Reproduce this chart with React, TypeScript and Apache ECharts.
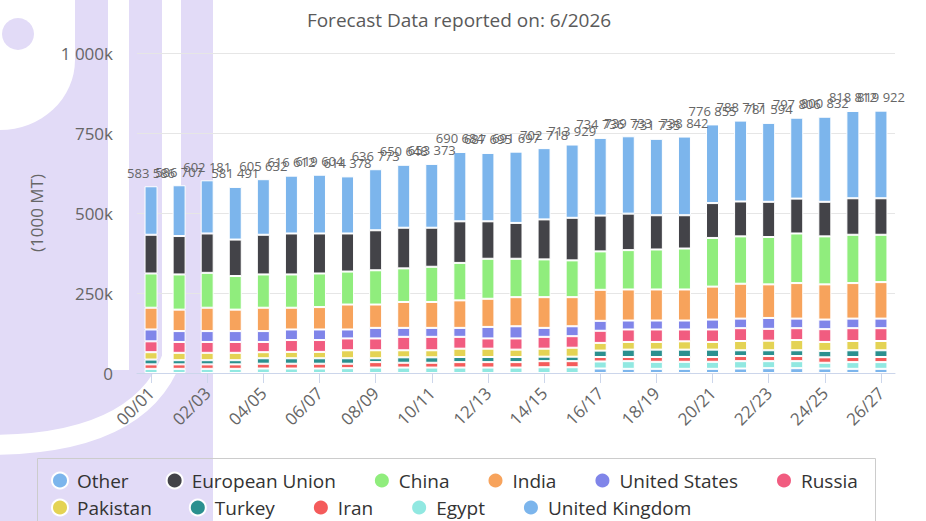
import React, { useEffect, useRef } from "react";
import * as echarts from "echarts";

const categories = [
  "00/01", "01/02", "02/03", "03/04", "04/05", "05/06", "06/07", "07/08", "08/09",
  "09/10", "10/11", "11/12", "12/13", "13/14", "14/15", "15/16", "16/17", "17/18",
  "18/19", "19/20", "20/21", "21/22", "22/23", "23/24", "24/25", "25/26", "26/27",
];

// values in 1000 MT
const unitedKingdom = [null, null, null, null, null, null, null, null, null, null, null, null, null, null, null, null,
  14000, 13000, 13000, 13000, 13000, 14000, 15000, 15000, 14000, 13000, 13000];
const egypt = [13000, 13000, 13000, 13000, 14000, 14000, 14000, 15000, 17000, 17000, 17000, 17000, 17000, 17000, 18000, 18000,
  22000, 24000, 22000, 22000, 22000, 23000, 22000, 22000, 18000, 21000, 21000];
const iran = [14000, 14000, 14000, 14000, 15000, 15000, 15000, 14000, 17000, 15000, 15000, 17000, 17000, 17000, 19000, 19000,
  14000, 13000, 15000, 15000, 15000, 16000, 16000, 16000, 17000, 16000, 16000];
const turkey = [15000, 13000, 13000, 13000, 17000, 17000, 17000, 17000, 12000, 17000, 17000, 16000, 16000, 16000, 14000, 14000,
  20000, 23000, 23000, 23000, 23000, 18000, 18000, 18000, 20000, 21000, 21000];
const pakistan = [23000, 23000, 23000, 23000, 19000, 20000, 20000, 25000, 25000, 22000, 22000, 26000, 26000, 23000, 25000, 28000,
  24000, 24000, 24000, 26000, 24000, 29000, 30000, 32000, 28000, 29000, 29000];
const russia = [34000, 34000, 34000, 34000, 32000, 37000, 37000, 37000, 37000, 42000, 42000, 37000, 32000, 35000, 37000, 36000,
  38000, 39000, 39000, 37000, 39000, 40000, 37000, 37000, 40000, 40000, 40000];
const unitedStates = [37000, 34000, 34000, 34000, 34000, 33000, 33000, 28000, 33000, 28000, 28000, 28000, 36000, 38000, 28000, 31000,
  31000, 28000, 28000, 28000, 31000, 30000, 34000, 30000, 30000, 30000, 30000];
const india = [68000, 67000, 73000, 67000, 73000, 68000, 70000, 78000, 73000, 81000, 81000, 86000, 88000, 91000, 96000, 91000,
  97000, 97000, 97000, 97000, 103000, 109000, 105000, 111000, 110000, 111000, 114000];
const china = [107000, 110000, 109000, 105000, 104000, 104000, 105000, 103000, 107000, 105000, 110000, 117000, 125000, 120000, 118000, 115000,
  120000, 123000, 125000, 128000, 152000, 148000, 148000, 155000, 150000, 151000, 148000];
const europeanUnion = [121000, 120000, 123000, 114000, 124000, 128000, 125000, 119000, 125000, 127000, 122000, 130000, 117000, 112000, 125000, 133000,
  112000, 114000, 107000, 104000, 109000, 109000, 110000, 109000, 108000, 114000, 114000];
const other = [151586, 158707, 166181, 164491, 173632, 180612, 183604, 178378, 190773, 196648, 199373, 216684, 213695, 222697, 222718, 228929,
  242736, 241733, 238735, 245842, 245855, 252717, 246594, 252806, 265832, 272812, 273922];

const yTicks = [0, 250000, 500000, 750000, 1000000];

const seriesDefs = [
  { name: "United Kingdom", data: unitedKingdom, color: "#7cb5ec" },
  { name: "Egypt", data: egypt, color: "#91e8e1" },
  { name: "Iran", data: iran, color: "#f45b5b" },
  { name: "Turkey", data: turkey, color: "#2b908f" },
  { name: "Pakistan", data: pakistan, color: "#e4d354" },
  { name: "Russia", data: russia, color: "#f15c80" },
  { name: "United States", data: unitedStates, color: "#8085e9" },
  { name: "India", data: india, color: "#f7a35c" },
  { name: "China", data: china, color: "#90ed7d" },
  { name: "European Union", data: europeanUnion, color: "#434348" },
  { name: "Other", data: other, color: "#7cb5ec" },
];

const legendRow1 = ["Other", "European Union", "China", "India", "United States", "Russia"];
const legendRow2 = ["Pakistan", "Turkey", "Iran", "Egypt", "United Kingdom"];

const fmtSpace = (v: number) =>
  String(Math.round(v)).replace(/\B(?=(\d{3})+(?!\d))/g, " ");

const FONT = "Open Sans";
const WM = "#e2dbf7";

export default function App() {
  const ref = useRef<HTMLDivElement>(null);

  useEffect(() => {
    if (!ref.current) return;
    echarts.graphic.registerShape(
      "wmLeft",
      echarts.graphic.extendPath(
        "M75 0 L108 0 L108 400 L0 400 L0 130 A75 70 0 0 0 75 60 Z",
        {}
      )
    );
    const chart = echarts.init(ref.current, null, { renderer: "svg" });

    const totals = categories.map((_, i) =>
      seriesDefs.reduce((s, d) => s + ((d.data[i] as number) || 0), 0)
    );

    const legendBase = {
      orient: "horizontal",
      icon: "circle",
      itemWidth: 16,
      itemHeight: 16,
      itemGap: 37,
      padding: 0,
      selectedMode: false,
      textStyle: {
        fontFamily: FONT,
        fontSize: 19,
        color: "#333",
        padding: [0, 0, 0, 4],
      },
    };

    const option: any = {
      animation: false,
      backgroundColor: "#ffffff",
      title: {
        text: "Forecast Data reported on: 6/2026",
        left: 454,
        top: 5,
        textAlign: "center",
        textStyle: { fontFamily: FONT, fontSize: 19, fontWeight: "normal", color: "#5a5a5a" },
      },
      graphic: [
        { type: "circle", z: -10, shape: { cx: 18, cy: 34, r: 16 }, style: { fill: WM } },
        { type: "wmLeft", z: -10, x: 0, y: 0, scaleX: 1, scaleY: 1, style: { fill: WM } },
        { type: "rect", z: -10, shape: { x: 129, y: 0, width: 33, height: 400 }, style: { fill: WM } },
        { type: "rect", z: -10, shape: { x: 181, y: 0, width: 32, height: 521 }, style: { fill: WM } },
        { type: "rect", z: -10, shape: { x: 0, y: 370, width: 213, height: 151 }, style: { fill: WM } },
        {
          type: "bezierCurve",
          z: -9,
          shape: { x1: 176, y1: 345, cpx1: 150, cpy1: 445, x2: -12, y2: 445 },
          style: { stroke: "#ffffff", lineWidth: 20, fill: "none" },
        },
        {
          type: "rect",
          z: -8,
          shape: { x: 37.5, y: 458.5, width: 838, height: 80 },
          style: { fill: "none", stroke: "#cccccc", lineWidth: 1 },
        },
      ],
      grid: { left: 137, right: 31, top: 53, bottom: 148 },
      legend: [
        { ...legendBase, data: legendRow1, left: 51, top: 471 },
        { ...legendBase, data: legendRow2, left: 51, top: 498 },
      ],
      xAxis: {
        type: "category",
        data: categories,
        axisLine: { lineStyle: { color: "#ccd6eb" } },
        axisTick: { show: true, interval: 1, alignWithLabel: true, length: 10, lineStyle: { color: "#ccd6eb" } },
        axisLabel: { interval: 1, rotate: 45, fontSize: 17, color: "#666", fontFamily: FONT, margin: 17 },
      },
      yAxis: {
        type: "value",
        min: yTicks[0],
        max: yTicks[yTicks.length - 1],
        interval: yTicks[1] - yTicks[0],
        name: "(1000 MT)",
        nameLocation: "middle",
        nameGap: 92,
        nameRotate: 90,
        nameTextStyle: { fontFamily: FONT, fontSize: 17, color: "#666" },
        axisLabel: {
          fontSize: 17,
          color: "#666",
          fontFamily: FONT,
          margin: 24,
          formatter: (v: number) => (v === 0 ? "0" : fmtSpace(v / 1000) + "k"),
        },
        splitLine: { lineStyle: { color: "#e6e6e6" } },
      },
      series: seriesDefs.map((d, idx) => ({
        name: d.name,
        type: "bar",
        stack: "total",
        data: d.data,
        barWidth: 13,
        itemStyle: { color: d.color, borderColor: "#ffffff", borderWidth: 1 },
        label:
          idx === seriesDefs.length - 1
            ? {
                show: true,
                position: "top",
                distance: 7,
                fontFamily: FONT,
                fontSize: 13,
                color: "#666",
                formatter: (p: any) => fmtSpace(totals[p.dataIndex]),
              }
            : { show: false },
      })),
    };

    chart.setOption(option);
    return () => chart.dispose();
  }, []);

  return (
    <div
      ref={ref}
      style={{ position: "absolute", left: 0, top: 0, width: 926, height: 521 }}
    />
  );
}
